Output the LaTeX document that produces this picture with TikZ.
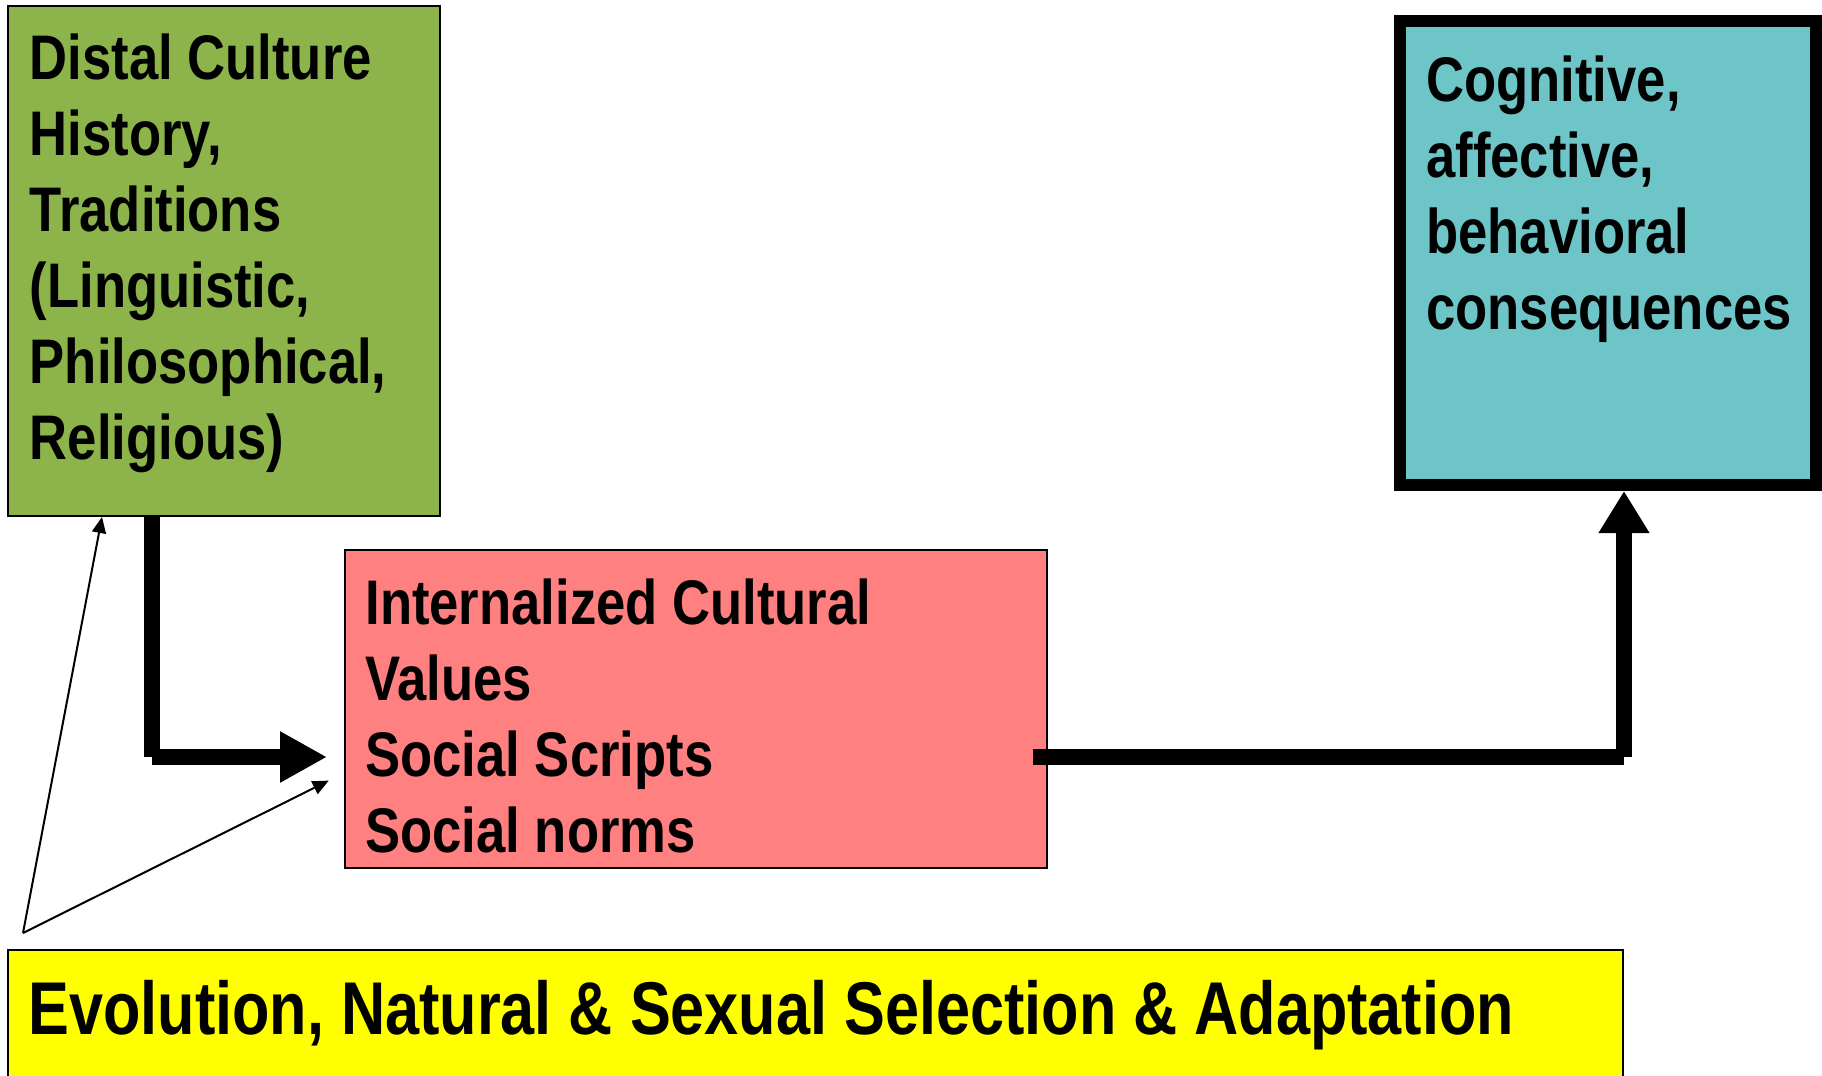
\documentclass[tikz,border=0pt]{standalone}
\usepackage{fontspec}
\newfontfamily\narrowsans[FakeStretch=0.835]{Liberation Sans}
\newfontfamily\bannersans[FakeStretch=0.818]{Liberation Sans}
\usetikzlibrary{arrows.meta,fit}

\definecolor{distalgreen}{RGB}{141,180,74}
\definecolor{valuepink}{RGB}{255,128,128}
\definecolor{outcomecyan}{RGB}{110,197,200}
\definecolor{evoyellow}{RGB}{255,255,0}

\tikzset{
  box/.style={draw=black, line width=1pt, inner sep=0pt},
  boxtext/.style={anchor=north west, inner sep=0pt, align=left,
    font=\narrowsans\bfseries\fontsize{31.5pt}{38pt}\selectfont},
  bigtext/.style={anchor=north west, inner sep=0pt, align=left,
    font=\bannersans\bfseries\fontsize{37.4pt}{45pt}\selectfont},
  flow/.style={line width=8pt},
  link/.style={line width=1pt, -{Triangle[length=8pt,width=7pt]}},
}

\begin{document}
\begin{tikzpicture}[x=0.5pt,y=-0.5pt]
\useasboundingbox (0,0) rectangle (1822,1076);
\clip (0,0) rectangle (1822,1076);

% boxes
\node[box, fill=distalgreen, fit={(8,6) (440,516)}] (distal) {};
\node[box, fill=valuepink, fit={(345,550) (1047,868)}] (values) {};
\node[box, fill=outcomecyan, line width=6pt, fit={(1400,21) (1816,485)}] (outcome) {};
\node[box, fill=evoyellow, fit={(8,950) (1623,1100)}] (evolution) {};

% box texts
\node[boxtext] (distaltext) at (29.5,33)
  {Distal Culture\\History,\\Traditions\\(Linguistic,\\Philosophical,\\Religious)};
\node[boxtext] (valuestext) at (365,578)
  {Internalized Cultural\\Values\\Social Scripts\\Social norms};
\node[boxtext] (outcometext) at (1426,55)
  {Cognitive,\\affective,\\behavioral\\consequences};
\node[bigtext] (evolutiontext) at (28,980)
  {Evolution, Natural \& Sexual Selection \& Adaptation};

% corner points of the thick connectors
\coordinate (bendA) at (152,757);
\coordinate (bendB) at (1624,757);
\coordinate (apex) at (23,933);

% distal culture -> internalized values
\draw[flow] (bendA |- distal.south) -- (bendA);
\draw[flow, -{Triangle[length=23.5pt,width=24pt]}, shorten >=8.5pt]
  (bendA) -- (values.west |- bendA);

% internalized values -> consequences
\draw[flow, shorten <=-7.75pt] (values.east |- bendB) -- (bendB);
\draw[flow, -{Triangle[length=21pt,width=24pt]}] (bendB) -- (bendB |- outcome.south);

% evolution influences
\draw[link] (apex) -- ([xshift=47.5pt]distal.south west);
\draw[link, shorten >=8.5pt] (apex) -- (values.west |- 0,773);
\end{tikzpicture}
\end{document}
